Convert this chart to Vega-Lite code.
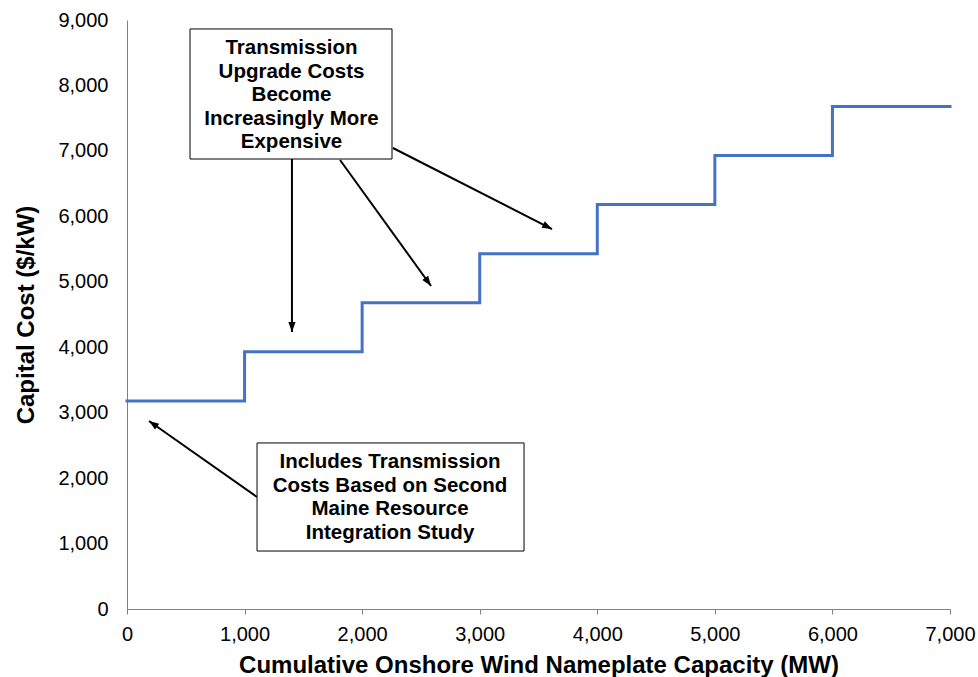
{
  "$schema": "https://vega.github.io/schema/vega-lite/v6.json",
  "autosize": {"type": "none"},
  "padding": {"left": 127, "top": 20, "right": 28, "bottom": 68},
  "width": 823,
  "height": 589,
  "background": "white",
  "config": {
    "view": {"stroke": null},
    "font": "Liberation Sans",
    "axis": {"grid": false, "labelFlush": false, "labelOverlap": false, "domainColor": "#808080", "tickColor": "#808080", "labelColor": "#000000", "titleColor": "#000000", "labelFont": "Liberation Sans", "titleFont": "Liberation Sans", "labelFontSize": 20, "titleFontSize": 24, "titleFontWeight": "bold"}
  },
  "datasets": {
    "steps": [
      {"capacity": 0, "cost": 3180},
      {"capacity": 1000, "cost": 3930},
      {"capacity": 2000, "cost": 4680},
      {"capacity": 3000, "cost": 5430},
      {"capacity": 4000, "cost": 6180},
      {"capacity": 5000, "cost": 6930},
      {"capacity": 6000, "cost": 7680},
      {"capacity": 7000, "cost": 7680}
    ],
    "arrows": [
      {"id": "A", "x1": 1106, "y1": 1711, "x2": 187, "y2": 2873},
      {"id": "B", "x1": 1403, "y1": 6876, "x2": 1403, "y2": 4233},
      {"id": "C", "x1": 1812, "y1": 6861, "x2": 2586, "y2": 4936},
      {"id": "D", "x1": 2262, "y1": 7044, "x2": 3615, "y2": 5806}
    ],
    "boxes": [
      {"id": "top", "x1": 536, "x2": 2254, "y1": 8863, "y2": 6876, "tx": 1399, "ty": 8572, "label": "Transmission\nUpgrade Costs\nBecome\nIncreasingly More\nExpensive"},
      {"id": "bottom", "x1": 1106, "x2": 3377, "y1": 2537, "y2": 886, "tx": 2237, "ty": 2246, "label": "Includes Transmission\nCosts Based on Second\nMaine Resource\nIntegration Study"}
    ]
  },
  "layer": [
    {
      "data": {"name": "steps"},
      "mark": {"type": "line", "interpolate": "step-after", "color": "#4472C4", "strokeWidth": 3, "strokeCap": "square"},
      "encoding": {
        "x": {"field": "capacity", "type": "quantitative", "scale": {"domain": [0, 7000], "nice": false},
          "axis": {"values": [0,1000,2000,3000,4000,5000,6000,7000], "format": ",d", "tickSize": 5, "labelPadding": 10, "title": "Cumulative Onshore Wind Nameplate Capacity (MW)", "titleY": 63, "titleBaseline": "alphabetic"}},
        "y": {"field": "cost", "type": "quantitative", "scale": {"domain": [0, 9000], "nice": false},
          "axis": {"values": [0,1000,2000,3000,4000,5000,6000,7000,8000,9000], "format": ",d", "ticks": false, "tickSize": 0, "labelPadding": 19, "title": "Capital Cost ($/kW)", "titleX": -94, "titleBaseline": "alphabetic"}}
      }
    },
    {
      "data": {"name": "arrows"},
      "mark": {"type": "rule", "color": "#000000", "strokeWidth": 2},
      "encoding": {
        "x": {"field": "x1", "type": "quantitative"},
        "y": {"field": "y1", "type": "quantitative"},
        "x2": {"field": "x2"},
        "y2": {"field": "y2"}
      }
    },
    {
      "data": {"name": "arrows"},
      "transform": [{"filter": "datum.id === 'A'"}],
      "mark": {"type": "point", "shape": "M0,0L-0.4,1.1L0.4,1.1Z", "filled": true, "color": "#000000", "size": 324, "opacity": 1, "angle": 305},
      "encoding": {"x": {"field": "x2", "type": "quantitative"}, "y": {"field": "y2", "type": "quantitative"}}
    },
    {
      "data": {"name": "arrows"},
      "transform": [{"filter": "datum.id === 'B'"}],
      "mark": {"type": "point", "shape": "M0,0L-0.4,1.1L0.4,1.1Z", "filled": true, "color": "#000000", "size": 324, "opacity": 1, "angle": 180},
      "encoding": {"x": {"field": "x2", "type": "quantitative"}, "y": {"field": "y2", "type": "quantitative"}}
    },
    {
      "data": {"name": "arrows"},
      "transform": [{"filter": "datum.id === 'C'"}],
      "mark": {"type": "point", "shape": "M0,0L-0.4,1.1L0.4,1.1Z", "filled": true, "color": "#000000", "size": 324, "opacity": 1, "angle": 144},
      "encoding": {"x": {"field": "x2", "type": "quantitative"}, "y": {"field": "y2", "type": "quantitative"}}
    },
    {
      "data": {"name": "arrows"},
      "transform": [{"filter": "datum.id === 'D'"}],
      "mark": {"type": "point", "shape": "M0,0L-0.4,1.1L0.4,1.1Z", "filled": true, "color": "#000000", "size": 324, "opacity": 1, "angle": 117},
      "encoding": {"x": {"field": "x2", "type": "quantitative"}, "y": {"field": "y2", "type": "quantitative"}}
    },
    {
      "data": {"name": "boxes"},
      "mark": {"type": "rect", "fill": "white", "stroke": "#000000", "strokeWidth": 1},
      "encoding": {
        "x": {"field": "x1", "type": "quantitative"},
        "x2": {"field": "x2"},
        "y": {"field": "y1", "type": "quantitative"},
        "y2": {"field": "y2"}
      }
    },
    {
      "data": {"name": "boxes"},
      "mark": {"type": "text", "font": "Liberation Sans", "fontSize": 20.5, "fontWeight": "bold", "color": "#000000", "align": "center", "baseline": "middle", "lineBreak": "\n", "lineHeight": 23.5},
      "encoding": {
        "x": {"field": "tx", "type": "quantitative"},
        "y": {"field": "ty", "type": "quantitative"},
        "text": {"field": "label"}
      }
    }
  ]
}
